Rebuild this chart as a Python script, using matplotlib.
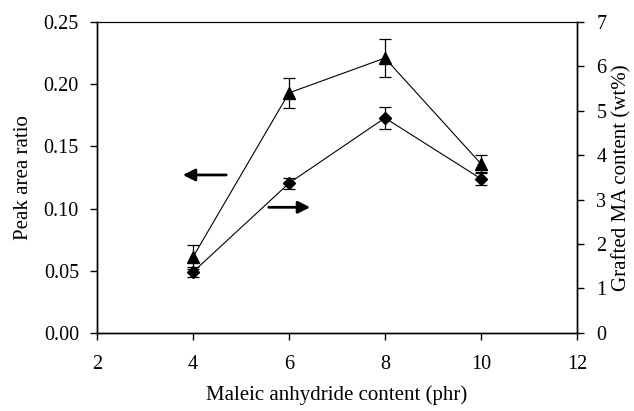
import matplotlib
matplotlib.use("Agg")
import matplotlib.pyplot as plt

x = [4, 6, 8, 10]
peak_ratio = [0.061, 0.193, 0.221, 0.136]
peak_err = [0.010, 0.012, 0.015, 0.007]
grafted = [1.37, 3.37, 4.84, 3.47]
grafted_err = [0.12, 0.12, 0.25, 0.13]

plt.rcParams['font.family'] = ['Liberation Serif', 'DejaVu Serif']

fig = plt.figure(figsize=(6.34, 4.11), dpi=100)
ax = fig.add_axes([0.153, 0.19, 0.757, 0.7565])
ax2 = ax.twinx()

ax.errorbar(x, peak_ratio, yerr=peak_err, marker='^', color='black', ms=8,
            lw=0.8, elinewidth=0.9, capsize=4, capthick=0.9)
ax2.errorbar(x, grafted, yerr=grafted_err, marker='D', color='black', ms=6,
             lw=0.8, elinewidth=0.9, capsize=4, capthick=0.9)

ax.set_xlim(2, 12)
ax.set_ylim(0, 0.25)
ax2.set_ylim(0, 7)
ax.set_xticks([2, 4, 6, 8, 10, 12])
ax.set_yticks([0, 0.05, 0.10, 0.15, 0.20, 0.25])
ax.set_yticklabels(['0.00', '0.05', '0.10', '0.15', '0.20', '0.25'])
ax2.set_yticks(range(8))

for a in (ax, ax2):
    a.tick_params(direction='out', length=5, width=1, labelsize=14.5)
    a.spines['top'].set_linestyle((0, (1, 1)))
    a.spines['top'].set_linewidth(0.8)
    for s in ('left', 'right', 'bottom'):
        a.spines[s].set_linewidth(1.0)
ax.tick_params(axis='y', pad=8)
ax.tick_params(axis='x', pad=11)
ax2.tick_params(axis='y', pad=9)

ax.set_xlabel('Maleic anhydride content (phr)', fontsize=15, labelpad=8)
ax.set_ylabel('Peak area ratio', fontsize=15, labelpad=8)
ax2.set_ylabel('Grafted MA content (wt%)', fontsize=15, labelpad=4)

ax.annotate('', xy=(3.73, 0.127), xytext=(4.75, 0.127),
            arrowprops=dict(arrowstyle='-|>', color='black', lw=2,
                            mutation_scale=18))
ax.annotate('', xy=(6.5, 0.101), xytext=(5.52, 0.101),
            arrowprops=dict(arrowstyle='-|>', color='black', lw=2,
                            mutation_scale=18))

fig.savefig('out.png', dpi=100)
